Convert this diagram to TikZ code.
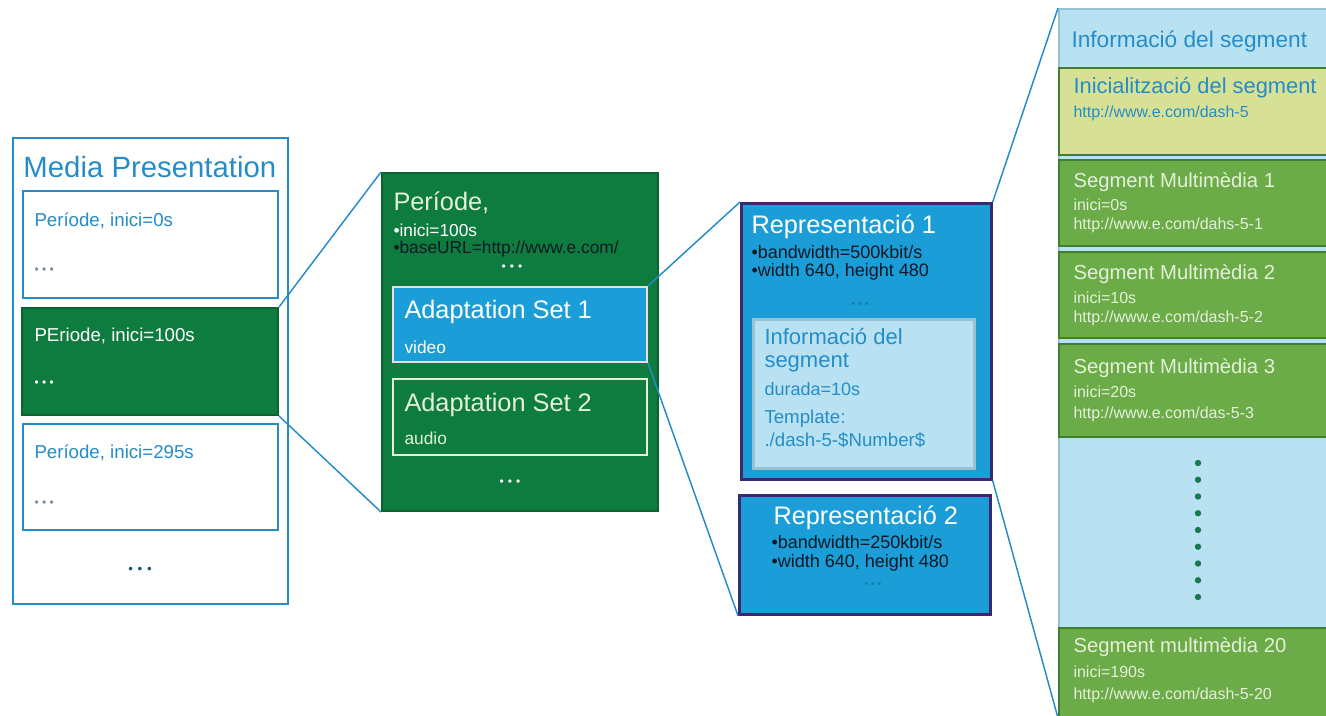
\documentclass[tikz,border=0pt]{standalone}
\usepackage{fontspec}
\setmainfont{Liberation Sans}

\definecolor{mpblue}{RGB}{38,140,200}
\definecolor{darkgreen}{RGB}{14,124,62}
\definecolor{setblue}{RGB}{27,157,216}
\definecolor{reppurple}{RGB}{58,40,112}
\definecolor{infoblue}{RGB}{184,226,242}
\definecolor{infoline}{RGB}{150,195,212}
\definecolor{initgreen}{RGB}{214,225,150}
\definecolor{seggreen}{RGB}{108,172,72}
\definecolor{segline}{RGB}{62,128,48}
\definecolor{segtext}{RGB}{228,240,218}
\definecolor{dotgreen}{RGB}{22,122,78}
\definecolor{dotgrey}{RGB}{120,140,160}
\definecolor{darktext}{RGB}{12,24,36}

\newcommand{\fsz}[1]{\fontsize{#1}{#1}\selectfont}
\newcommand{\tridots}[1]{\textbullet\hspace{#1}\textbullet\hspace{#1}\textbullet}

\tikzset{every picture/.style={line width=0.75pt},
  pxbox/.style 2 args={anchor=north west,inner sep=0pt,minimum width=#1*0.75pt,minimum height=#2*0.75pt},
  txt/.style={anchor=west,inner sep=0.75pt},
  link/.style={draw=mpblue,line width=1.1pt}}

\begin{document}
\begin{tikzpicture}[x=0.75pt,y=0.75pt,yscale=-1,xscale=1]
\useasboundingbox (0,0) rectangle (1326,716);

%Media Presentation
\node [pxbox={275}{466},draw=mpblue,line width=1.5pt] (mp) at (12,137) {};
\node [txt,text=mpblue] (mptitle) at (22,167) {\fsz{22}Media Presentation};
\node [pxbox={255}{107},draw=mpblue,fill=white,line width=1.5pt] (p0) at (22,190) {};
\node [pxbox={256}{107},draw=darkgreen!80!black,fill=darkgreen,line width=1.5pt] (p1) at (21,307) {};
\node [pxbox={255}{106},draw=mpblue,fill=white,line width=1.5pt] (p2) at (22,423) {};
\node [txt,text=mpblue] (p0t) at (33,221) {\fsz{14}Període, inici=0s};
\node [txt,text=dotgrey] (p0d) at (33,271) {\fsz{9}\tridots{2.5pt}};
\node [txt,text=white] (p1t) at (33,336) {\fsz{14}PEriode, inici=100s};
\node [txt,text=white] (p1d) at (33,384) {\fsz{9}\tridots{2.5pt}};
\node [txt,text=mpblue] (p2t) at (33,453) {\fsz{14}Període, inici=295s};
\node [txt,text=dotgrey] (p2d) at (33,504) {\fsz{9}\tridots{2.5pt}};
\node [text=mpblue!60!black] (mpd) at (140,570) {\fsz{10}\tridots{3.5pt}};

%Periode
\node [pxbox={276}{338},draw=darkgreen!80!black,fill=darkgreen,line width=1.5pt] (per) at (381,172) {};
\node [txt,text=segtext] (pert) at (392,203) {\fsz{19}Període,};
\node [txt,text=white] (pera) at (392,230) {\fsz{13}•inici=100s};
\node [txt,text=darktext] (perb) at (392,249) {\fsz{13}•baseURL=http://www.e.com/};
\node [text=white] (perd) at (512,268) {\fsz{9}\tridots{3pt}};
\node [pxbox={254}{75},draw=white!85!violet,fill=setblue,line width=1.5pt] (as1) at (392,286) {};
\node [txt,text=white] (as1t) at (403,312) {\fsz{19}Adaptation Set 1};
\node [txt,text=white] (as1s) at (403,347) {\fsz{13}video};
\node [pxbox={254}{76},draw=segtext,line width=1.5pt] (as2) at (392,378) {};
\node [txt,text=segtext] (as2t) at (403,405) {\fsz{19}Adaptation Set 2};
\node [txt,text=segtext] (as2s) at (403,438) {\fsz{13}audio};
\node [text=white] (perd2) at (510,483) {\fsz{9}\tridots{3pt}};

%Representacions
\node [pxbox={250}{276},draw=reppurple,fill=setblue,line width=2pt] (rep1) at (740,202) {};
\node [txt,text=white] (rep1t) at (750,227) {\fsz{19}Representació 1};
\node [txt,text=darktext] (rep1a) at (750,252) {\fsz{13.5}•bandwidth=500kbit/s};
\node [txt,text=darktext] (rep1b) at (750,272) {\fsz{13.5}•width 640, height 480};
\node [text=setblue!80!black] (rep1d) at (860,305) {\fsz{8}\tridots{2pt}};
\node [pxbox={221}{149},draw=infoline,fill=infoblue,line width=2.5pt] (info) at (752,318) {};
\node [txt,text=mpblue,align=left,font={\fontsize{16.5}{17.5}\selectfont}] (infot) at (763,350) {Informació del\\segment};
\node [txt,text=mpblue] (infoa) at (763,389) {\fsz{13.5}durada=10s};
\node [txt,text=mpblue] (infob) at (763,419) {\fsz{14}Template:};
\node [txt,text=mpblue] (infoc) at (763,440) {\fsz{14}./dash-5-\$Number\$};
\node [pxbox={251}{119},draw=reppurple,fill=setblue,line width=2pt] (rep2) at (738,494) {};
\node [txt,text=white] (rep2t) at (772,518) {\fsz{19}Representació 2};
\node [txt,text=darktext] (rep2a) at (770,542) {\fsz{13.5}•bandwidth=250kbit/s};
\node [txt,text=darktext] (rep2b) at (770,563) {\fsz{13.5}•width 640, height 480};
\node [text=setblue!80!black] (rep2d) at (873,585) {\fsz{8}\tridots{2pt}};

%Segments
\node [pxbox={290}{708},draw=infoline,fill=infoblue,line width=1.5pt] (col) at (1058,8) {};
\node [txt,text=mpblue] (colt) at (1070,42) {\fsz{17}Informació del segment};
\node [pxbox={290}{87},draw=segline,fill=initgreen,line width=1.5pt] (init) at (1058,67) {};
\node [txt,text=mpblue] (initt) at (1072,88) {\fsz{16.4}Inicialització del segment};
\node [txt,text=mpblue] (initu) at (1072,113) {\fsz{12}http://www.e.com/dash-5};
\node [pxbox={290}{86},draw=segline,fill=seggreen,line width=1.5pt] (s1) at (1058,159) {};
\node [txt,text=segtext] (s1t) at (1072,182) {\fsz{15.2}Segment Multimèdia 1};
\node [txt,text=segtext] (s1a) at (1072,205) {\fsz{12}inici=0s};
\node [txt,text=segtext] (s1b) at (1072,225) {\fsz{12}http://www.e.com/dahs-5-1};
\node [pxbox={290}{86},draw=segline,fill=seggreen,line width=1.5pt] (s2) at (1058,251) {};
\node [txt,text=segtext] (s2t) at (1072,274) {\fsz{15.2}Segment Multimèdia 2};
\node [txt,text=segtext] (s2a) at (1072,298) {\fsz{12}inici=10s};
\node [txt,text=segtext] (s2b) at (1072,318) {\fsz{12}http://www.e.com/dash-5-2};
\node [pxbox={290}{93},draw=segline,fill=seggreen,line width=1.5pt] (s3) at (1058,343) {};
\node [txt,text=segtext] (s3t) at (1072,368) {\fsz{15.2}Segment Multimèdia 3};
\node [txt,text=segtext] (s3a) at (1072,392) {\fsz{12}inici=20s};
\node [txt,text=segtext] (s3b) at (1072,414) {\fsz{12}http://www.e.com/das-5-3};
\foreach \i in {0,...,8}
  \fill [dotgreen] (1198,463+\i*16.75) circle (3.2);
\node [pxbox={290}{95},draw=segline,fill=seggreen,line width=1.5pt] (s20) at (1058,627) {};
\node [txt,text=segtext] (s20t) at (1072,647) {\fsz{15.2}Segment multimèdia 20};
\node [txt,text=segtext] (s20a) at (1072,672) {\fsz{12}inici=190s};
\node [txt,text=segtext] (s20b) at (1072,695) {\fsz{12}http://www.e.com/dash-5-20};

%zoom lines
\draw [link] (p1.north east) -- (per.north west);
\draw [link] (p1.south east) -- (per.south west);
\draw [link] (as1.north east) -- (rep1.north west);
\draw [link] (as1.south east) -- (rep2.south west);
\draw [link] (rep1.north east) -- (col.north west);
\draw [link] (rep1.south east) -- (col.south west);

\end{tikzpicture}
\end{document}
